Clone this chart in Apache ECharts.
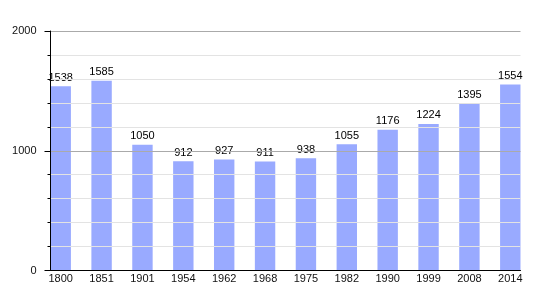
<!DOCTYPE html>
<html>
<head>
<meta charset="utf-8">
<script src="https://cdn.jsdelivr.net/npm/echarts@6/dist/echarts.min.js"></script>
<style>
html,body{margin:0;padding:0;background:#fff;}
#c{width:550px;height:300px;}
</style>
</head>
<body>
<div id="c"></div>
<script>
var years = ['1800','1851','1901','1954','1962','1968','1975','1982','1990','1999','2008','2014'];
var population = [1538,1585,1050,912,927,911,938,1055,1176,1224,1395,1554];
var yTicks = [0,1000,2000];

var idx = years.map(function(_, i){ return i; });
var barData = population.map(function(v, i){ return [i, v]; });

var chart = echarts.init(document.getElementById('c'), null, {renderer:'canvas'});
chart.setOption({
  animation:false,
  backgroundColor:'#fff',
  textStyle:{fontFamily:'Liberation Sans, Arial, sans-serif'},
  grid:{left:50.5, right:29.5, top:31, bottom:29.5},
  xAxis:{
    type:'value',
    z:10,
    min:-0.25, max:years.length - 0.75,
    axisLine:{show:true, onZero:false, lineStyle:{color:'#000', width:1}},
    axisTick:{show:false},
    splitLine:{show:false},
    axisLabel:{
      customValues: idx,
      formatter:function(v){ return years[Math.round(v)]; },
      color:'#111', fontSize:11, margin:3,
      fontFamily:'Liberation Sans, Arial, sans-serif'
    }
  },
  yAxis:{
    type:'value',
    z:10,
    min:yTicks[0], max:yTicks[yTicks.length-1], interval:1000,
    axisLine:{show:true, onZero:false, lineStyle:{color:'#000', width:1}},
    axisTick:{show:true, length:6, lineStyle:{color:'#000'}},
    minorTick:{show:true, splitNumber:5, length:3, lineStyle:{color:'#000'}},
    splitLine:{show:true, lineStyle:{color:'#aaaaaa', width:1}},
    minorSplitLine:{show:true, lineStyle:{color:'#e3e3e3', width:1}},
    axisLabel:{color:'#111', fontSize:11, margin:14,
      formatter:function(v){ return String(v); },
      fontFamily:'Liberation Sans, Arial, sans-serif'}
  },
  series:[{
    type:'bar',
    z:2,
    data:barData,
    barWidth:20.4,
    itemStyle:{color:'#99aaff'},
    label:{show:true, position:'top', distance:3, color:'#000', fontSize:11,
      fontFamily:'Liberation Sans, Arial, sans-serif',
      formatter:function(p){ return p.value[1]; }},
    labelLayout:{hideOverlap:false}
  }]
});
</script>
</body>
</html>
